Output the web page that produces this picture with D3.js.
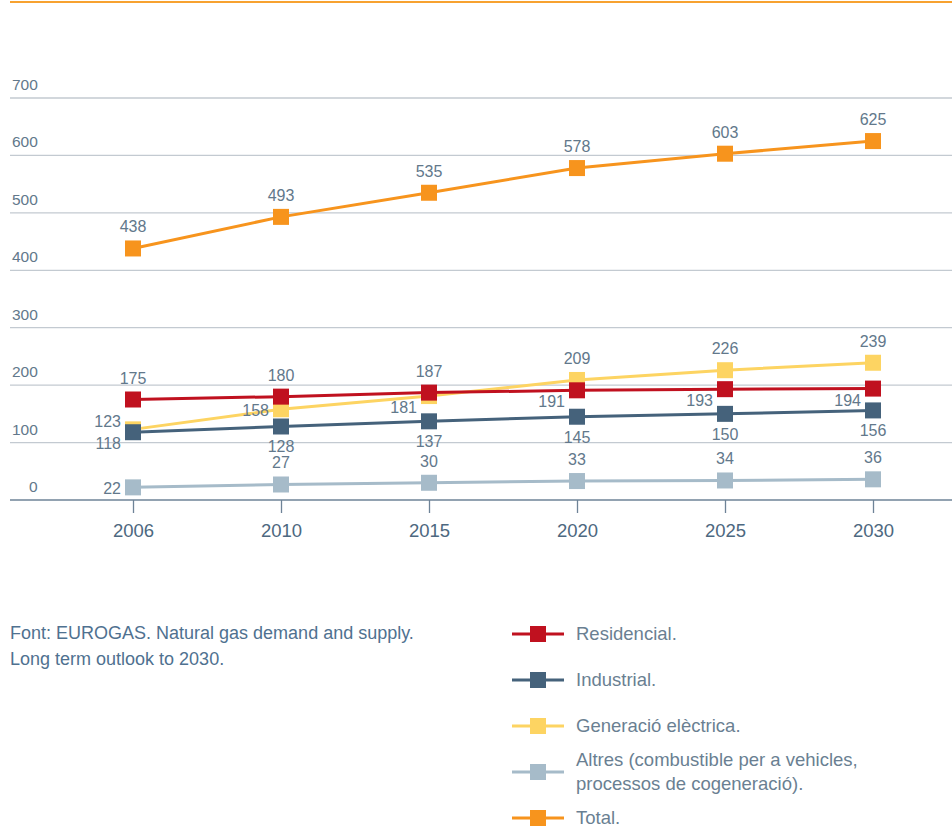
<!DOCTYPE html>
<html>
<head>
<meta charset="utf-8">
<script src="https://cdn.jsdelivr.net/npm/d3@7"></script>
<style>
  body { margin: 0; background: #fff; }
  svg text { font-family: "Liberation Sans", Arial, sans-serif; }
</style>
</head>
<body>
<div id="chart"></div>
<script>
const years = ['2006', '2010', '2015', '2020', '2025', '2030'];
const residencial = [175, 180, 187, 191, 193, 194];
const industrial = [118, 128, 137, 145, 150, 156];
const generacio = [123, 158, 181, 209, 226, 239];
const altres = [22, 27, 30, 33, 34, 36];
const total = [438, 493, 535, 578, 603, 625];
const yTicks = [0, 100, 200, 300, 400, 500, 600, 700];

// where each value label sits relative to its marker
const labelPlace = {
    residencial: ['a', 'a', 'a', 'lb', 'lb', 'lb'],
    industrial: ['lb', 'b', 'b', 'b', 'b', 'b'],
    generacio: ['la', 'l', 'lb', 'a', 'a', 'a'],
    altres: ['l', 'a', 'a', 'a', 'a', 'a'],
    total: ['a', 'a', 'a', 'a', 'a', 'a']
};

// drawing order: later ones sit on top
const series = [
    {key: 'altres', values: altres, color: '#a6bbc9'},
    {key: 'generacio', values: generacio, color: '#fdd462'},
    {key: 'industrial', values: industrial, color: '#45627b'},
    {key: 'residencial', values: residencial, color: '#c0111f'},
    {key: 'total', values: total, color: '#f7941d'}
];

const legendItems = [
    {label: ['Residencial.'], color: '#c0111f'},
    {label: ['Industrial.'], color: '#45627b'},
    {label: ['Generació elèctrica.'], color: '#fdd462'},
    {label: ['Altres (combustible per a vehicles,', 'processos de cogeneració).'], color: '#a6bbc9'},
    {label: ['Total.'], color: '#f7941d'}
];

const width = 952;
const height = 829;
const textColor = '#62788b';

const svg = d3.select('#chart').append('svg')
    .attr('width', width)
    .attr('height', height);

// top rule
svg.append('line')
    .attr('x1', 10).attr('x2', width)
    .attr('y1', 2).attr('y2', 2)
    .attr('stroke', '#f7a230').attr('stroke-width', 2);

const x = d3.scalePoint()
    .domain(years)
    .range([133, 873]);

const y = d3.scaleLinear()
    .domain([0, 700])
    .range([500, 98]);

// gridlines + y labels
const grid = svg.append('g');
grid.selectAll('line')
    .data(yTicks.filter(d => d > 0))
    .join('line')
    .attr('x1', 10).attr('x2', width)
    .attr('y1', d => y(d)).attr('y2', d => y(d))
    .attr('stroke', '#c3cad1').attr('stroke-width', 1.3);
grid.selectAll('text')
    .data(yTicks)
    .join('text')
    .attr('x', d => d === 0 ? 29 : 12)
    .attr('y', d => y(d) - 8)
    .attr('font-size', 15.5)
    .attr('fill', textColor)
    .text(d => d);

// x axis
const xAxis = svg.append('g')
    .attr('transform', `translate(0,${y(0)})`)
    .call(d3.axisBottom(x).tickSize(13).tickPadding(11));
xAxis.select('.domain').remove();
xAxis.selectAll('.tick line').attr('stroke', '#6e8397').attr('stroke-width', 1.3);
xAxis.selectAll('.tick text')
    .attr('font-size', 18.5)
    .attr('fill', '#4d6880')
    .style('font-family', '"Liberation Sans", Arial, sans-serif');
svg.append('line')
    .attr('x1', 10).attr('x2', width)
    .attr('y1', y(0)).attr('y2', y(0))
    .attr('stroke', '#6e8397').attr('stroke-width', 1.5);

const line = d3.line()
    .x((d, i) => x(years[i]))
    .y(d => y(d));

const sq = 16;
series.forEach(s => {
    const g = svg.append('g');
    g.append('path')
        .datum(s.values)
        .attr('d', line)
        .attr('fill', 'none')
        .attr('stroke', s.color)
        .attr('stroke-width', 3);
    g.selectAll('rect')
        .data(s.values)
        .join('rect')
        .attr('x', (d, i) => x(years[i]) - sq / 2)
        .attr('y', d => y(d) - sq / 2)
        .attr('width', sq).attr('height', sq)
        .attr('fill', s.color);
});

// value labels on top of everything
series.forEach(s => {
    svg.append('g').selectAll('text')
        .data(s.values)
        .join('text')
        .attr('font-size', 16)
        .attr('fill', textColor)
        .each(function(d, i) {
            const p = labelPlace[s.key][i];
            const cx = x(years[i]);
            const cy = y(d);
            const t = d3.select(this);
            if (p === 'a') t.attr('x', cx).attr('y', cy - 16).attr('text-anchor', 'middle');
            else if (p === 'b') t.attr('x', cx).attr('y', cy + 26).attr('text-anchor', 'middle');
            else if (p === 'l') t.attr('x', cx - 12).attr('y', cy + 7).attr('text-anchor', 'end');
            else if (p === 'lb') t.attr('x', cx - 12).attr('y', cy + 17).attr('text-anchor', 'end');
            else if (p === 'la') t.attr('x', cx - 12).attr('y', cy - 2).attr('text-anchor', 'end');
        })
        .text(d => d);
});

// footnote
svg.append('text')
    .attr('x', 10).attr('y', 639)
    .attr('font-size', 18)
    .attr('fill', '#4f7190')
    .selectAll('tspan')
    .data(['Font: EUROGAS. Natural gas demand and supply.', 'Long term outlook to 2030.'])
    .join('tspan')
    .attr('x', 10)
    .attr('dy', (d, i) => i === 0 ? 0 : 26)
    .text(d => d);

// legend
const legendY = [634, 680, 726, 772, 818];
const legend = svg.append('g');
legendItems.forEach((item, i) => {
    const ly = legendY[i];
    legend.append('line')
        .attr('x1', 512).attr('x2', 564)
        .attr('y1', ly).attr('y2', ly)
        .attr('stroke', item.color).attr('stroke-width', 3);
    legend.append('rect')
        .attr('x', 530).attr('y', ly - 8)
        .attr('width', 16).attr('height', 16)
        .attr('fill', item.color);
    const startY = ly + 6 - (item.label.length - 1) * 12;
    item.label.forEach((l, j) => {
        legend.append('text')
            .attr('x', 576).attr('y', startY + j * 24)
            .attr('font-size', 18.5)
            .attr('fill', '#6a7f92')
            .text(l);
    });
});
</script>
</body>
</html>
